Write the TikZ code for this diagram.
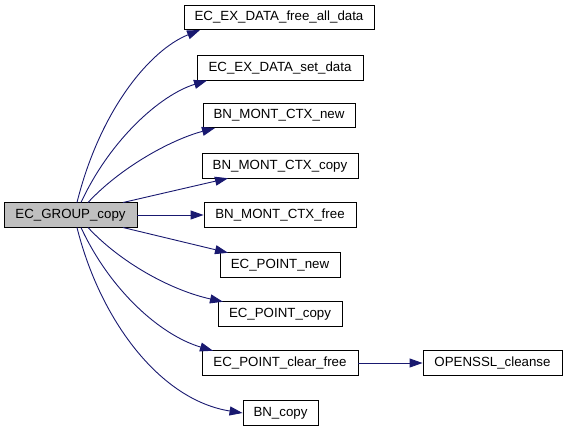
\documentclass[tikz,border=0pt]{standalone}
\usepackage{fontspec}
\setmainfont{Liberation Sans}
\usetikzlibrary{arrows.meta}
\definecolor{edgeblue}{RGB}{25,25,112}
\definecolor{mainfill}{RGB}{191,191,191}
\begin{document}
\begin{tikzpicture}[x=1pt,y=-1pt,
  fnbox/.style={draw=black,line width=0.9pt,fill=white,inner sep=0pt,minimum height=24.5pt,font=\fontsize{13.3}{16}\selectfont},
  mainbox/.style={fnbox,fill=mainfill},
  call/.style={draw=edgeblue,line width=0.9pt,-{Triangle[length=13pt,width=9pt]}}]
\useasboundingbox (0,0) rectangle (567,431);
\node[mainbox,minimum width=133pt] (g) at (70.5,215) {EC\_GROUP\_copy};
\node[fnbox,minimum width=190pt] (a) at (279,17.5) {EC\_EX\_DATA\_free\_all\_data};
\node[fnbox,minimum width=166pt] (b) at (280,68) {EC\_EX\_DATA\_set\_data};
\node[fnbox,minimum width=152pt] (c) at (279,115.5) {BN\_MONT\_CTX\_new};
\node[fnbox,minimum width=156pt] (d) at (280,166) {BN\_MONT\_CTX\_copy};
\node[fnbox,minimum width=152pt] (e) at (280,215) {BN\_MONT\_CTX\_free};
\node[fnbox,minimum width=120pt] (f) at (280,265) {EC\_POINT\_new};
\node[fnbox,minimum width=124pt] (h) at (280,314) {EC\_POINT\_copy};
\node[fnbox,minimum width=156pt] (i) at (280,363) {EC\_POINT\_clear\_free};
\node[fnbox,minimum width=139pt] (j) at (492.5,363) {OPENSSL\_cleanse};
\node[fnbox,minimum width=75pt] (k) at (280.5,413) {BN\_copy};
% start points on main box
\coordinate (t1) at (77,202.5);
\coordinate (t2) at (81,202.5);
\coordinate (t3) at (88,202.5);
\coordinate (t4) at (123,202.5);
\coordinate (b1) at (77,227.5);
\coordinate (b2) at (81,227.5);
\coordinate (b3) at (88,227.5);
\coordinate (b4) at (123,227.5);
% end points
\coordinate (ea) at (200,30);
\coordinate (eb) at (207,80.5);
\coordinate (ec) at (215,128);
\coordinate (ed) at (228,178.25);
\coordinate (ef) at (228,252.75);
\coordinate (eh) at (223,301.75);
\coordinate (ei) at (213,350.75);
\draw[call] (t1) .. controls (100,110) and (150,50) .. (ea);
\draw[call] (t2) .. controls (110,140) and (160,95) .. (eb);
\draw[call] (t3) .. controls (120,168) and (170,140) .. (ec);
\draw[call] (t4) -- (ed);
\draw[call] (g.east) -- (e.west);
\draw[call] (b4) -- (ef);
\draw[call] (b3) .. controls (120,262) and (170,290) .. (eh);
\draw[call] (b2) .. controls (110,290) and (160,335) .. (ei);
\draw[call] (b1) .. controls (100,320) and (160,400) .. (k.west);
\draw[call] (i.east) -- (j.west);
\end{tikzpicture}
\end{document}
